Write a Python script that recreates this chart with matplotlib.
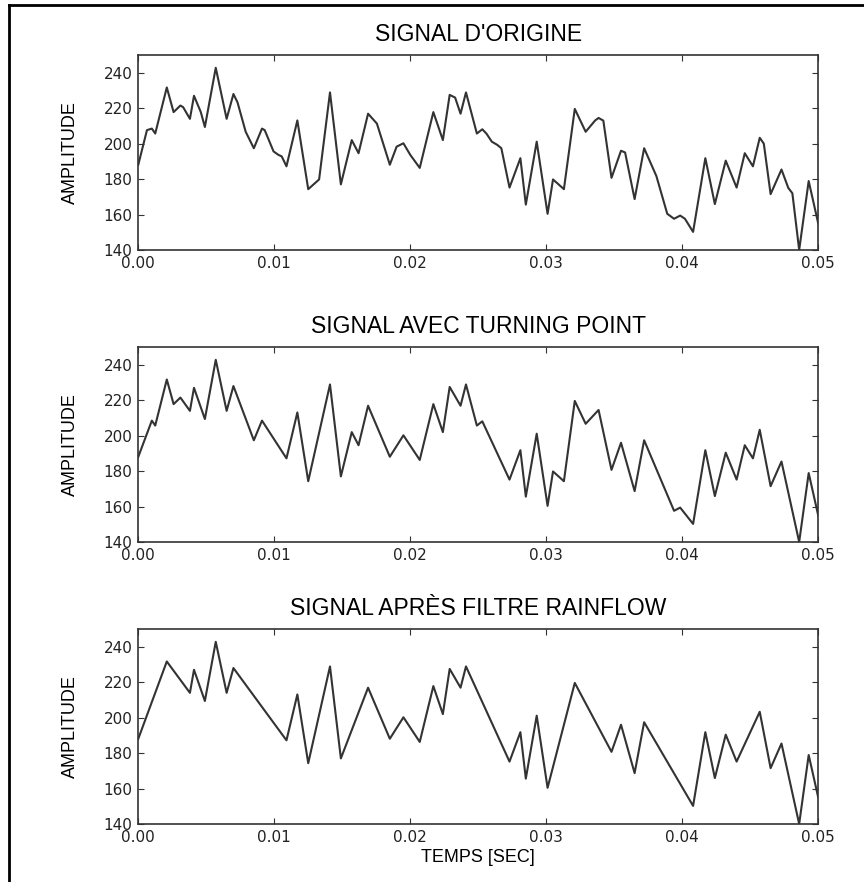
import numpy as np
import matplotlib.pyplot as plt
from matplotlib.lines import Line2D
from matplotlib.ticker import FormatStrFormatter

# signal d'origine (temps en ms, amplitude)
temps_ms = [0.0, 0.64, 1.0, 1.25, 2.1, 2.6, 3.1, 3.3, 3.8, 4.1, 4.6, 4.9, 5.7, 6.5, 7.0, 7.3,
            7.9, 8.5, 9.1, 9.3, 9.95, 10.3, 10.55, 10.9, 11.7, 12.5, 13.3, 14.1, 14.9, 15.7,
            16.2, 16.9, 17.55, 18.5, 19.0, 19.5, 20.0, 20.7, 21.7, 22.4, 22.9, 23.3, 23.7,
            24.1, 24.9, 25.3, 25.6, 26.0, 26.4, 26.7, 27.3, 28.1, 28.5, 29.3, 30.1, 30.5,
            31.3, 32.1, 32.9, 33.6, 33.85, 34.2, 34.8, 35.5, 35.8, 36.5, 37.2, 38.1, 38.9,
            39.4, 39.85, 40.2, 40.8, 41.7, 42.4, 43.2, 44.0, 44.6, 45.2, 45.7, 46.0, 46.5,
            47.3, 47.8, 48.1, 48.6, 49.3, 50.0]
amplitude = [188, 207.6, 208.5, 205.7, 231.7, 217.8, 221.5, 220.6, 214.0, 227.0, 217.8, 209.4,
             242.8, 214.0, 228.0, 223.3, 206.7, 197.4, 208.5, 207.6, 195.6, 193.7, 192.8, 187.2,
             213.1, 174.3, 179.8, 228.9, 177.0, 202.0, 194.6, 216.9, 211.3, 188.1, 198.3, 200.2,
             193.7, 186.3, 217.8, 202.0, 227.5, 226.0, 216.9, 228.9, 205.7, 208.1, 205.7, 201.1,
             199.3, 197.4, 175.2, 191.8, 165.6, 201.1, 160.4, 179.8, 174.3, 219.6, 206.7, 213.1,
             214.5, 213.0, 180.7, 196.0, 195.0, 168.7, 197.4, 181.7, 160.4, 157.6, 159.4, 157.6,
             150.2, 191.8, 165.9, 190.4, 175.2, 194.6, 187.2, 203.3, 200.0, 171.5, 185.4, 175.0,
             172.0, 140.0, 178.9, 155.0]

# instants conserves apres le filtre rainflow (ms)
rainflow_ms = [0.0, 2.1, 3.8, 4.1, 4.9, 5.7, 6.5, 7.0, 10.9, 11.7, 12.5, 14.1, 14.9, 16.9,
               18.5, 19.5, 20.7, 21.7, 22.4, 22.9, 23.7, 24.1, 27.3, 28.1, 28.5, 29.3, 30.1,
               32.1, 34.8, 35.5, 36.5, 37.2, 40.8, 41.7, 42.4, 43.2, 44.0, 45.7, 46.5, 47.3,
               48.6, 49.3, 50.0]

t = np.array(temps_ms) / 1000.0
y = np.array(amplitude)

# turning points : extremums locaux + extremites
d = np.diff(y)
tp = np.r_[True, d[:-1] * d[1:] < 0, True]
t_tp, y_tp = t[tp], y[tp]

# filtre rainflow
idx_rf = [int(np.argmin(np.abs(np.array(temps_ms) - m))) for m in rainflow_ms]
t_rf, y_rf = t[idx_rf], y[idx_rf]

fig = plt.figure(figsize=(8.64, 8.82), dpi=100)

titres = ["SIGNAL D'ORIGINE", "SIGNAL AVEC TURNING POINT", "SIGNAL APRÈS FILTRE RAINFLOW"]
series = [(t, y), (t_tp, y_tp), (t_rf, y_rf)]
bas = [0.7166, 0.3855, 0.0658]

for i in range(3):
    ax = fig.add_axes([0.160, bas[i], 0.787, 0.221])
    ax.plot(series[i][0], series[i][1], color='#333333', lw=1.5)
    ax.set_xlim(0, 0.05)
    ax.set_ylim(140, 250)
    ax.set_xticks(np.arange(0, 0.051, 0.01))
    ax.set_yticks(np.arange(140, 241, 20))
    ax.xaxis.set_major_formatter(FormatStrFormatter('%.2f'))
    ax.tick_params(direction='in', top=True, right=True, length=4, labelsize=11, pad=4,
                   colors='#333333', labelcolor='#222222')
    for s in ax.spines.values():
        s.set_linewidth(1.2)
        s.set_color('#333333')
    ax.set_title(titres[i], family='Liberation Sans', fontsize=16.5, pad=10)
    ax.set_ylabel('AMPLITUDE', family='Liberation Sans', fontsize=13, va='center')
    ax.yaxis.set_label_coords(-0.1, 0.5)
    if i == 2:
        ax.set_xlabel('TEMPS [SEC]', family='Liberation Sans', fontsize=13, va='center')
        ax.xaxis.set_label_coords(0.5, -0.17)

# cadre de la page (gauche et haut)
fig.add_artist(Line2D([9 / 864, 9 / 864], [0, 1 - 5 / 882], color='black', lw=2))
fig.add_artist(Line2D([9 / 864, 1], [1 - 5 / 882, 1 - 5 / 882], color='black', lw=2))

fig.savefig('out.png', dpi=100)
